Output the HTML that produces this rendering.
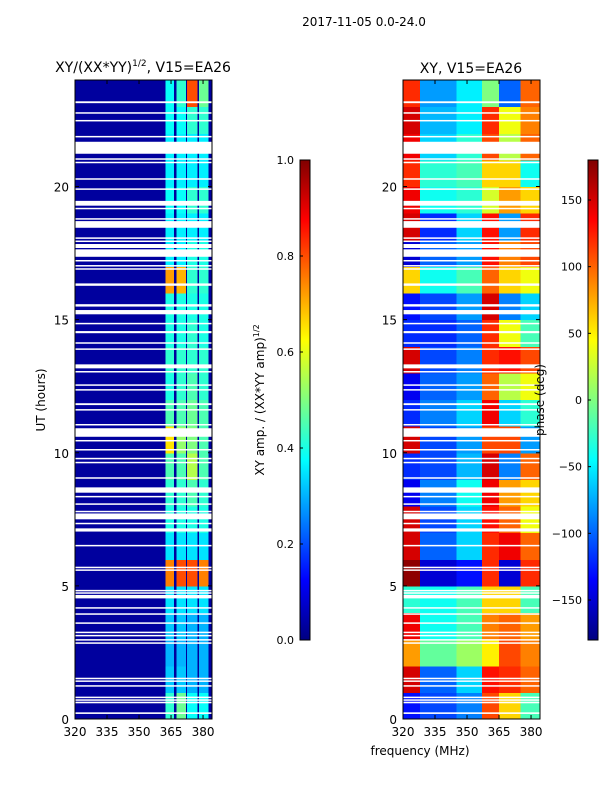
<!DOCTYPE html>
<html><head><meta charset="utf-8">
<style>
html,body{margin:0;padding:0;background:#fff;}
svg{display:block;font-family:"DejaVu Sans","Liberation Sans",sans-serif;}
</style></head>
<body>
<svg id="fig" width="600" height="800" viewBox="0 0 600 800" xmlns="http://www.w3.org/2000/svg">
<rect width="600" height="800" fill="#fff"/>
<text x="364" y="26" font-size="12" text-anchor="middle">2017-11-05 0.0-24.0</text>
<text x="143" y="72" font-size="14" text-anchor="middle">XY/(XX*YY)<tspan font-size="9" dy="-6">1/2</tspan><tspan dy="6">, V15=EA26</tspan></text>
<text x="471" y="73" font-size="14" text-anchor="middle">XY, V15=EA26</text>
<text x="45" y="400" font-size="12" text-anchor="middle" transform="rotate(-90 45 400)">UT (hours)</text>
<text x="420" y="755" font-size="12" text-anchor="middle">frequency (MHz)</text>
<text x="264" y="400" font-size="12" text-anchor="middle" transform="rotate(-90 264 400)">XY amp. / (XX*YY amp)<tspan font-size="8" dy="-5">1/2</tspan></text>
<g id="left"></g>
<g id="right"></g>
<g id="cbars"></g>
<text x="544" y="400" font-size="12" text-anchor="middle" transform="rotate(-90 544 400)">phase (deg)</text>
</svg>
<script>
// ---- data ----
const hourRows = [0,1,2,3,4,5,6,7,8,9,10,11,12,13,14,15,16,17,18,19,20,21,22,23];
const ampBand1 = [0.42,0.32,0.3,0.32,0.35,0.75,0.35,0.4,0.42,0.45,0.65,0.45,0.4,0.42,0.4,0.4,0.72,0.36,0.36,0.38,0.36,0.36,0.38,0.38];
const ampBand2 = [0.48,0.32,0.3,0.32,0.35,0.8,0.35,0.4,0.42,0.45,0.52,0.45,0.42,0.42,0.4,0.4,0.7,0.36,0.36,0.38,0.36,0.36,0.38,0.42];
const ampBand3 = [0.38,0.3,0.3,0.3,0.35,0.8,0.35,0.4,0.45,0.55,0.5,0.48,0.45,0.42,0.42,0.4,0.42,0.4,0.36,0.42,0.36,0.36,0.42,0.8];
const ampBand4 = [0.38,0.3,0.3,0.3,0.35,0.75,0.35,0.4,0.42,0.45,0.45,0.45,0.42,0.42,0.4,0.4,0.42,0.4,0.36,0.42,0.36,0.36,0.42,0.48];
const ampBase = 0.03;
const bandFreqs = [[362.5,366.5],[367.5,372],[372.5,377.5],[378,382.5]];
const phaseFreqEdges = [320,328,345,357,365,375,384.2];
const phaseCol1 = [-130,150,80,140,-30,175,150,150,-140,-120,150,-120,-140,150,-120,-130,60,-150,150,140,120,140,150,120];
const phaseCol2 = [-110,-100,-10,-40,-40,-150,-100,-110,-90,-110,-110,-90,-100,-110,-120,-110,-40,-100,-120,-40,-30,-60,-70,-80];
const phaseCol3 = [-90,-60,10,-20,-20,-130,-60,-60,-40,-70,-80,-60,-80,-90,-100,-80,-20,-80,-60,-30,-20,-30,-50,-50];
const phaseCol4 = [110,130,50,90,60,120,120,130,140,150,110,140,100,120,120,150,100,130,130,30,60,110,120,0];
const phaseCol5 = [60,120,110,100,60,-150,140,100,80,-90,110,-60,20,130,40,-90,60,90,-80,80,60,20,40,-100];
const phaseCol6 = [-20,100,90,80,-20,120,100,40,60,100,-80,-30,40,110,-20,-60,40,110,120,60,-40,100,90,100];
const gaps = [[0.19,0.25],[0.59,0.65],[0.69,0.74],[0.79,0.84],[1.22,1.27],[1.4,1.45],[1.5,1.55],[2.83,2.88],[2.95,3.0],[3.11,3.16],[3.23,3.28],[3.58,3.63],[3.92,3.97],[4.15,4.2],[4.53,4.66],[4.71,4.76],[4.8,4.85],[5.57,5.62],[5.67,5.72],[6.49,6.54],[7.04,7.16],[7.32,7.37],[7.5,7.72],[7.77,7.82],[8.05,8.1],[8.33,8.38],[8.5,8.7],[9.03,9.08],[9.61,9.66],[9.76,9.81],[10.09,10.14],[10.43,10.48],[10.6,10.92],[11.03,11.08],[11.59,11.64],[11.79,11.86],[12.34,12.39],[12.52,12.57],[13.02,13.07],[13.17,13.32],[13.87,13.92],[14.1,14.15],[14.49,14.57],[14.83,14.88],[15.2,15.36],[15.49,15.58],[16.27,16.36],[16.88,16.93],[17.0,17.05],[17.19,17.24],[17.36,17.64],[17.69,17.84],[17.92,17.97],[18.04,18.09],[18.45,18.7],[18.76,18.81],[19.15,19.2],[19.28,19.46],[19.88,19.93],[20.26,20.31],[20.88,20.93],[21.01,21.06],[21.23,21.68],[21.85,21.9],[22.45,22.5],[22.74,22.79],[23.13,23.2]];
const yTicks = [0,5,10,15,20];
const xTicks = [320,335,350,365,380];
const ampTicks = [0.0,0.2,0.4,0.6,0.8,1.0];
const phaseTicks = [-150,-100,-50,0,50,100,150];

// ---- helpers ----
const NS="http://www.w3.org/2000/svg";
function mk(tag,attrs,parent){const e=document.createElementNS(NS,tag);for(const k in attrs)e.setAttribute(k,attrs[k]);parent.appendChild(e);return e;}
function jet(v){v=Math.max(0,Math.min(1,v));
 const c=x=>Math.round(255*Math.max(0,Math.min(1,x)));
 const r=c(1.5-Math.abs(4*v-3)), g=c(1.5-Math.abs(4*v-2)), b=c(1.5-Math.abs(4*v-1));
 return `rgb(${r},${g},${b})`;}
const Y0=719,Y1=80;
const yS=h=>Y0-(h/24)*(Y0-Y1);
const fMin=320,fMax=384.2;
function xS(panelX){return f=>panelX+(f-fMin)/(fMax-fMin)*137;}
const LX=75,RX=403,PW=137;

function drawAxes(g,X,xs){
 mk('rect',{x:X,y:Y1,width:PW,height:Y0-Y1,fill:'none',stroke:'#000','stroke-width':1},g);
 yTicks.forEach(t=>{const y=yS(t);
  mk('line',{x1:X,x2:X+4,y1:y,y2:y,stroke:'#000'},g);
  mk('line',{x1:X+PW-4,x2:X+PW,y1:y,y2:y,stroke:'#000'},g);
  const tx=mk('text',{x:X-6,y:y+5,'font-size':12,'text-anchor':'end'},g);tx.textContent=t;
  
  
 });
 xTicks.forEach(t=>{const x=xs(t);
  mk('line',{x1:x,x2:x,y1:Y0,y2:Y0-4,stroke:'#000'},g);
  mk('line',{x1:x,x2:x,y1:Y1,y2:Y1+4,stroke:'#000'},g);
  const tx=mk('text',{x:x,y:Y0+17,'font-size':12,'text-anchor':'middle'},g);tx.textContent=t;
  
  
 });
}
function drawGaps(g,X){
 gaps.forEach(gp=>{const r=mk('rect',{x:X,y:yS(gp[1]),width:PW,height:Math.max(1.5,yS(gp[0])-yS(gp[1])),fill:'#fff'},g);
  
  });
}

// left amplitude
const L=document.getElementById('left');
const xl=xS(LX);
mk('rect',{x:LX,y:Y1,width:PW,height:Y0-Y1,fill:jet(ampBase)},L);
const bands=[ampBand1,ampBand2,ampBand3,ampBand4];
hourRows.forEach((h,i)=>{
 bands.forEach((arr,b)=>{
  const r=mk('rect',{x:xl(bandFreqs[b][0]),y:yS(h+1),width:xl(bandFreqs[b][1])-xl(bandFreqs[b][0]),height:yS(h)-yS(h+1)+0.5,fill:jet(arr[i]),'shape-rendering':'crispEdges'},L);
  
  
 });
});
drawGaps(L,LX);
drawAxes(L,LX,xl);

// right phase
const R=document.getElementById('right');
const xr=xS(RX);
const phaseCols=[phaseCol1,phaseCol2,phaseCol3,phaseCol4,phaseCol5,phaseCol6];
hourRows.forEach((h,i)=>{
 phaseCols.forEach((arr,c)=>{
  const r=mk('rect',{x:xr(phaseFreqEdges[c]),y:yS(h+1),width:xr(phaseFreqEdges[c+1])-xr(phaseFreqEdges[c])+0.5,height:yS(h)-yS(h+1)+0.5,fill:jet((arr[i]+180)/360),'shape-rendering':'crispEdges'},R);
  
  
 });
});
drawGaps(R,RX);
drawAxes(R,RX,xr);

// colorbars
const C=document.getElementById('cbars');
const defs=mk('defs',{},C);
const grad=mk('linearGradient',{id:'jetg',x1:0,y1:1,x2:0,y2:0},defs);
for(let i=0;i<=16;i++){mk('stop',{offset:i/16,'stop-color':jet(i/16)},grad);}
function cbar(X,ticks,lo,hi,name){
 const r=mk('rect',{x:X,y:160,width:10,height:480,fill:'url(#jetg)',stroke:'#000','stroke-width':1},C);
 
 
 ticks.forEach(t=>{const y=640-(t-lo)/(hi-lo)*480;
  mk('line',{x1:X,x2:X+3,y1:y,y2:y,stroke:'#000'},C);
  const tx=mk('text',{x:X-6,y:y+4,'font-size':11,'text-anchor':'end'},C);
  tx.textContent=(lo===0)?t.toFixed(1):(t<0?'\u2212'+Math.abs(t):t);
  
  
 });
}
cbar(300,ampTicks,0,1,'amp-colorbar');
cbar(588,phaseTicks,-180,180,'phase-colorbar');
</script>
</body></html>
